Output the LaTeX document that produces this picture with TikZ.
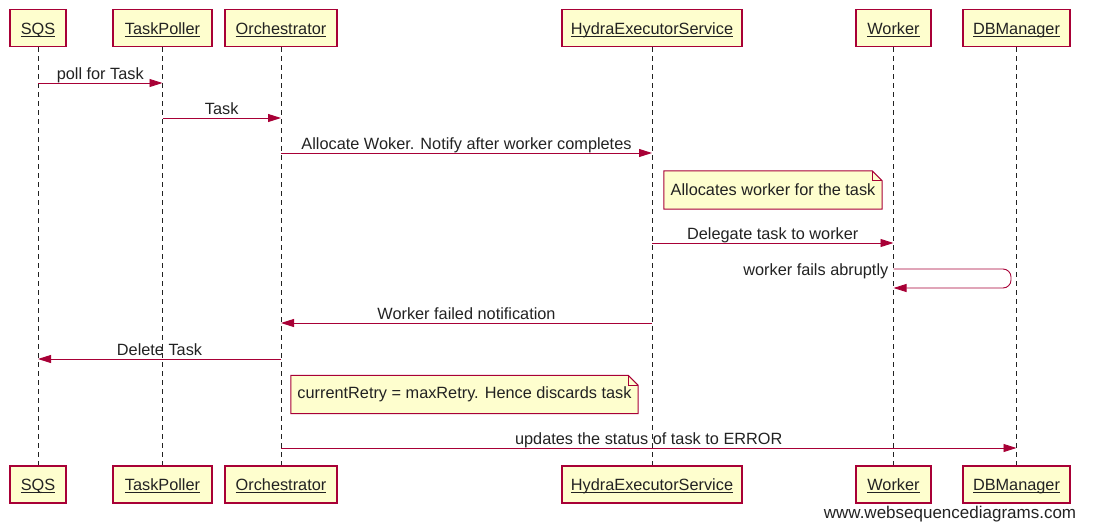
\documentclass[tikz,border=0pt]{standalone}
\usepackage{fontspec}
\setmainfont{Liberation Sans}
\usepackage{xcolor}
\usetikzlibrary{arrows.meta,backgrounds}

\definecolor{umlred}{HTML}{A80036}
\definecolor{umlfill}{HTML}{FEFECE}
\definecolor{umltext}{HTML}{222222}

\newcommand\actorname[1]{\setbox0\hbox{#1}\rlap{\rule[-2.6pt]{\wd0}{0.8pt}}\box0}

\begin{document}
\begin{tikzpicture}[x=1pt,y=-1pt,
  every node/.style={font=\fontsize{16.3}{19}\selectfont,text=umltext},
  actor/.style={draw=umlred,fill=umlfill,line width=1.1pt,minimum height=37pt,minimum width=#1,
    inner xsep=0pt,text height=12pt,text depth=0pt},
  lifeline/.style={umltext,dash pattern=on 5pt off 4pt,line width=0.9pt},
  msg/.style={umlred,line width=0.9pt,-{Triangle[length=13pt,width=8pt]}},
  msglabel/.style={anchor=base,inner sep=0pt,yshift=3.5pt},
  notebox/.style={inner sep=0pt,minimum width=#1,minimum height=38pt},
  notefill/.style={draw=umlred,fill=umlfill,line width=1pt}]
\useasboundingbox (0,0) rectangle (1099,530);

\foreach \name/\x/\w/\txt in {sqs/38/56/SQS,poller/162.5/99/TaskPoller,orch/281/112/Orchestrator,
  hydra/652/180/HydraExecutorService,worker/893.5/75/Worker,db/1016.5/107/DBManager}
{
\node [actor=\w pt] (\name-top) at (\x,28) {\actorname{\txt}};
\node [actor=\w pt] (\name-bot) at (\x,484.5) {\actorname{\txt}};
\draw [lifeline] (\name-top) -- (\name-bot);
}

\draw [msg] (sqs-top |- 0,83) -- (poller-top |- 0,83) node [msglabel,midway] {poll for Task};
\draw [msg] (poller-top |- 0,118) -- (orch-top |- 0,118) node [msglabel,midway] {Task};
\draw [msg] (orch-top |- 0,153) -- (hydra-top |- 0,153) node [msglabel,midway] {Allocate Woker. Notify after worker completes};

\node [notebox=218pt] (note1) at (773,190) {Allocates worker for the task};

\draw [msg] (hydra-top |- 0,243) -- (worker-top |- 0,243) node [msglabel,midway] {Delegate task to worker};

\draw [msg,rounded corners=8pt] (worker-top |- 0,269) -- (1011,269) -- (1011,288) -- (worker-top |- 0,288);
\node [anchor=base east,inner sep=0pt] (fails) at ([xshift=-5pt]worker-top |- 0,275) {worker fails abruptly};

\draw [msg] (hydra-top |- 0,323) -- (orch-top |- 0,323) node [msglabel,midway] {Worker failed notification};
\draw [msg] (orch-top |- 0,359) -- (sqs-top |- 0,359) node [msglabel,midway] {Delete Task};

\node [notebox=347pt] (note2) at (464.5,394.5) {currentRetry = maxRetry. Hence discards task};

\draw [msg] (orch-top |- 0,448) -- (db-top |- 0,448) node [msglabel,midway] {updates the status of task to ERROR};

%\draw notes behind their text
\begin{scope}[on background layer]
\foreach \n in {note1,note2}
{
\draw [notefill] (\n.south west) -- (\n.north west) -- ([xshift=-10pt]\n.north east)
  -- ([yshift=-10pt]\n.north east) -- (\n.south east) -- cycle;
\draw [umlred,line width=0.8pt] ([xshift=-10pt]\n.north east) -- ([xshift=-10pt,yshift=-10pt]\n.north east)
  -- ([yshift=-10pt]\n.north east);
}
\end{scope}

\node [font=\fontsize{17}{20}\selectfont] (wsd) at (950,514) {www.websequencediagrams.com};
\end{tikzpicture}
\end{document}
